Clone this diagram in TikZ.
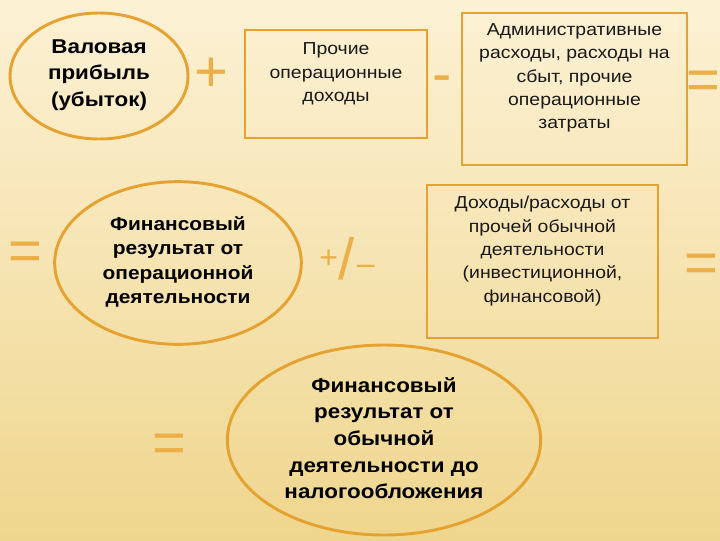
\documentclass[tikz,border=0pt]{standalone}
\usepackage{fontspec}
\setmainfont[FakeStretch=1.12]{Liberation Sans}
\newfontfamily\opfont{Liberation Sans}
\usepackage{xcolor}
\definecolor{SlideTop}   {RGB}{252, 241, 212}
\definecolor{SlideMiddle}{RGB}{249, 231, 184}
\definecolor{SlideBottom}{RGB}{239, 214, 142}
\definecolor{FrameOrange}{RGB}{230, 162,  48}
\definecolor{SignOrange} {RGB}{236, 174,  70}
\definecolor{TextDark}   {RGB}{ 25,  25,  25}
\usetikzlibrary{shapes.geometric}

\begin{document}
\begin{tikzpicture}[
  x=0.75pt, y=-0.75pt,
  frame/.style={
    draw=FrameOrange, line width=2.2pt},
  box/.style={frame,
    rectangle, inner sep=0pt},
  oval/.style={frame,
    ellipse, inner sep=0pt},
  boldtext/.style={
    font=\bfseries\fontsize{15}{20}\selectfont,
    align=center, text=black, inner sep=0pt},
  plaintext/.style={
    font=\fontsize{13}{17.5}\selectfont,
    align=center, text=TextDark, inner sep=0pt},
  sign/.style={
    font=\opfont\fontsize{43.5}{43.5}\selectfont,
    text=SignOrange, inner sep=0pt, anchor=base}
]

\useasboundingbox (0,0) rectangle (720,540);
\fill[top color=SlideTop, middle color=SlideMiddle,
  bottom color=SlideBottom]
  (0,0) rectangle (720,540);

\node[oval, minimum width=133.5pt, minimum height=94.5pt]
  (gross) at (99,76) {};
\node[boldtext] (grosstxt) at (99,75)
  {Валовая\\прибыль\\(убыток)};

\node[box, minimum width=136.5pt, minimum height=81pt]
  (otherinc) at (336,84) {};
\node[plaintext] (otherinctxt) at (336,74)
  {Прочие\\операционные\\доходы};

\node[box, minimum width=168.75pt, minimum height=114pt]
  (admin) at (574.5,89) {};
\node[plaintext] (admintxt) at (574.5,78)
  {Административные\\расходы, расходы на\\сбыт, прочие\\операционные\\затраты};

\node[oval, minimum width=185pt, minimum height=122pt]
  (opres) at (178,263) {};
\node[boldtext, font=\bfseries\fontsize{14}{18.4}\selectfont]
  (oprestxt) at (178,262)
  {Финансовый\\результат от\\операционной\\деятельности};

\node[box, minimum width=173.25pt, minimum height=114.75pt]
  (otheract) at (542.5,261.5) {};
\node[plaintext] (otheracttxt) at (542.5,251)
  {Доходы/расходы от\\прочей обычной\\деятельности\\(инвестиционной,\\финансовой)};

\node[oval, minimum width=235pt, minimum height=142.5pt]
  (ordres) at (384,440) {};
\node[boldtext] (ordrestxt) at (384,438)
  {Финансовый\\результат от\\обычной\\деятельности до\\налогообложения};

\node[sign] (plusA) at (211,91) {+};
\node[sign] (minusA) at (442,93) {-};
\node[sign] (eqA) at (703,99) {=};
\node[sign] (eqB) at (25,270) {=};
\node[sign] (pmA) at (347,279)
  {\raisebox{8.25pt}{\fontsize{24}{24}\selectfont+}/\kern2pt%
   \raisebox{3.75pt}{\fontsize{24}{24}\selectfont–}};
\node[sign] (eqC) at (701,282) {=};
\node[sign] (eqD) at (169,462) {=};
\end{tikzpicture}
\end{document}
